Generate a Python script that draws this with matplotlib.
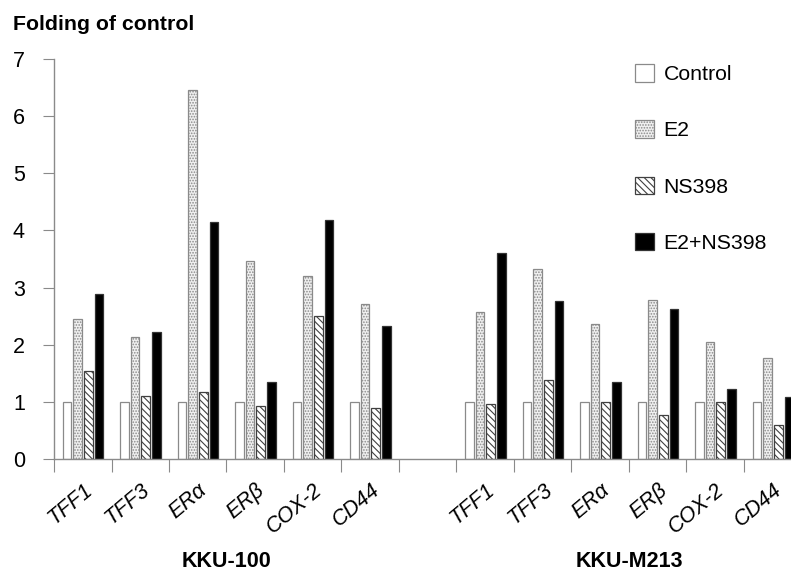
import matplotlib
matplotlib.use("Agg")
import matplotlib.pyplot as plt
from matplotlib.patches import Patch
import numpy as np

plt.rcParams['font.family'] = ['Liberation Sans', 'DejaVu Sans']
plt.rcParams['hatch.linewidth'] = 0.8

genes = ['TFF1', 'TFF3', 'ERα', 'ERβ', 'COX-2', 'CD44']
cell_lines = ['KKU-100', 'KKU-M213']
series = ['Control', 'E2', 'NS398', 'E2+NS398']

kku100 = {
    'Control':  [1, 1, 1, 1, 1, 1],
    'E2':       [2.45, 2.14, 6.45, 3.47, 3.20, 2.72],
    'NS398':    [1.54, 1.10, 1.17, 0.92, 2.50, 0.89],
    'E2+NS398': [2.88, 2.22, 4.15, 1.34, 4.19, 2.32],
}
kkum213 = {
    'Control':  [1, 1, 1, 1, 1, 1],
    'E2':       [2.57, 3.33, 2.37, 2.78, 2.05, 1.76],
    'NS398':    [0.97, 1.39, 1.00, 0.77, 0.99, 0.60],
    'E2+NS398': [3.60, 2.76, 1.35, 2.62, 1.23, 1.09],
}

styles = {
    'Control':  dict(facecolor='white', edgecolor='#8a8a8a', hatch=None),
    'E2':       dict(facecolor='#f0f0f0', edgecolor='#8a8a8a', hatch='......'),
    'NS398':    dict(facecolor='white', edgecolor='#404040', hatch='\\\\\\\\\\'),
    'E2+NS398': dict(facecolor='black', edgecolor='#333333', hatch=None),
}

fig = plt.figure(figsize=(7.91, 5.71), dpi=100)
ax = fig.add_axes([54/791, 112/571, 747.5/791, 400/571])

pos100 = np.arange(6) + 0.5
posm213 = np.arange(7, 13) + 0.5
offsets = [-0.275, -0.09, 0.095, 0.28]
width = 0.15

for k, s in enumerate(series):
    st = styles[s]
    for pos, data in ((pos100, kku100), (posm213, kkum213)):
        ax.bar(pos + offsets[k], data[s], width=width, facecolor=st['facecolor'],
               edgecolor=st['edgecolor'], hatch=st['hatch'], linewidth=0.9)

ax.set_xlim(0, 13)
ax.set_ylim(0, 7)
ax.set_yticks(range(8))
ax.tick_params(axis='y', direction='out', length=8, color='#8a8a8a', labelsize=15.5, pad=13)
ax.set_xticks(np.arange(14))
ax.set_xticklabels([])
ax.tick_params(axis='x', which='major', direction='out', length=9, color='#8a8a8a')
ax.set_xticks(np.concatenate([pos100, posm213]), minor=True)
ax.set_xticklabels(genes + genes, minor=True, rotation=40, ha='right',
                   rotation_mode='anchor', fontsize=15.5, style='italic')
ax.tick_params(axis='x', which='minor', length=0, pad=15)

for side in ('top', 'right'):
    ax.spines[side].set_visible(False)
for side in ('left', 'bottom'):
    ax.spines[side].set_color('#8a8a8a')
    ax.spines[side].set_linewidth(1.0)

ax.text(3.0, -1.79, cell_lines[0], transform=ax.transData, ha='center', va='center',
        fontsize=15.5, fontweight='bold')
ax.text(10.0, -1.79, cell_lines[1], transform=ax.transData, ha='center', va='center',
        fontsize=15.5, fontweight='bold')

fig.text(13/791, 1 - 25/571, 'Folding of control', fontsize=15.3, fontweight='bold',
         ha='left', va='center')

handles = [Patch(facecolor=styles[s]['facecolor'], edgecolor=styles[s]['edgecolor'],
                 hatch=styles[s]['hatch'], linewidth=0.9) for s in series]
leg = ax.legend(handles, series, loc='upper left', bbox_to_anchor=(618/791, 1 - 47/571),
                bbox_transform=fig.transFigure, frameon=False, fontsize=15.3,
                handlelength=0.9, handleheight=0.9, labelspacing=1.7, handletextpad=0.45,
                borderpad=0.3)

fig.savefig('out.png', dpi=100)
